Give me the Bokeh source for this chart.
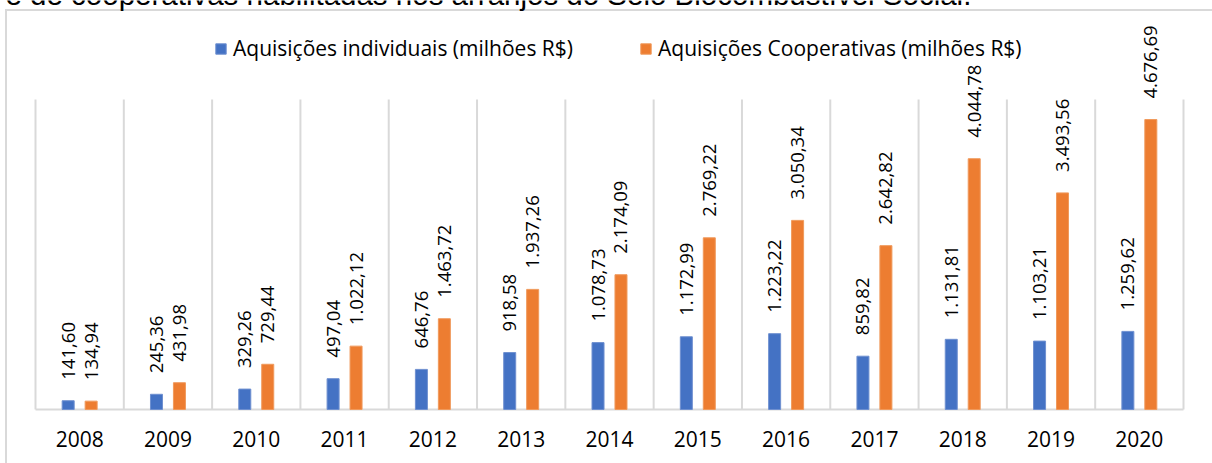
import numpy as np
from bokeh.plotting import figure
from bokeh.models import FixedTicker, Label, ColumnDataSource
from bokeh.core.properties import value
from bokeh.embed import file_html
from bokeh.resources import INLINE

years = ["2008", "2009", "2010", "2011", "2012", "2013", "2014", "2015", "2016", "2017", "2018", "2019", "2020"]
individuais = [141.60, 245.36, 329.26, 497.04, 646.76, 918.58, 1078.73, 1172.99, 1223.22, 859.82, 1131.81, 1103.21, 1259.62]
cooperativas = [134.94, 431.98, 729.44, 1022.12, 1463.72, 1937.26, 2174.09, 2769.22, 3050.34, 2642.82, 4044.78, 3493.56, 4676.69]
serie_ind = "Aquisições individuais (milhões R$)"
serie_coop = "Aquisições Cooperativas (milhões R$)"
titulo = "e de cooperativas habilitadas nos arranjos do Selo Biocombustível Social."
y_max = 5000

BLUE = "#4472C4"
ORANGE = "#ED7D31"
GRID = "#d9d9d9"

# ---- layout (pixels) ----
W, H = 1212, 463
PX_LEFT, PX_RIGHT = 35, 1183      # plot area horizontal extent
PX_TOP, PX_ZERO = 99, 409         # y=y_max and y=0 pixel rows
FRAME_BOTTOM = 411


def br(v):
    s = f"{v:,.2f}"
    return s.replace(",", "X").replace(".", ",").replace("X", ".")


n = len(years)
ppx = (PX_RIGHT - PX_LEFT) / n
ppy = (PX_ZERO - PX_TOP) / y_max
x_start = -PX_LEFT / ppx
x_end = n + (W - PX_RIGHT) / ppx
y_start = -(FRAME_BOTTOM - PX_ZERO) / ppy
y_end = PX_ZERO / ppy

centers = np.arange(n) + 0.5
dx = 0.13
bw = 0.136

src_ind = ColumnDataSource(dict(x=centers - dx, top=individuais, lab=[br(v) for v in individuais]))
src_coop = ColumnDataSource(dict(x=centers + dx, top=cooperativas, lab=[br(v) for v in cooperativas]))

p = figure(width=W, height=H, x_range=(x_start, x_end), y_range=(y_start, y_end),
           output_backend="svg", toolbar_location=None, y_axis_location=None,
           min_border_left=0, min_border_right=0, min_border_top=0,
           min_border_bottom=H - FRAME_BOTTOM,
           styles={"background-color": "white",
                   "background-image": "linear-gradient(#d9d9d9, #d9d9d9), linear-gradient(#d9d9d9, #d9d9d9)",
                   "background-size": "2px 100%, 100% 2px",
                   "background-position": "5px 9px, 5px 9px",
                   "background-repeat": "no-repeat"})
p.outline_line_color = None
p.background_fill_color = None
p.border_fill_color = None
p.xgrid.visible = False
p.ygrid.visible = False

# category separators and baseline
bounds = np.arange(n + 1)
p.segment(x0=bounds, y0=0, x1=bounds, y1=y_max, line_color=GRID, line_width=2)
p.segment(x0=[0], y0=[0], x1=[n], y1=[0], line_color=GRID, line_width=2)

p.vbar(x="x", top="top", width=bw, source=src_ind, fill_color=BLUE, line_color="#6f90d0",
       line_width=1, legend_label=serie_ind)
p.vbar(x="x", top="top", width=bw, source=src_coop, fill_color=ORANGE, line_color="#f09a5c",
       line_width=1, legend_label=serie_coop)

for s in (src_ind, src_coop):
    p.text(x="x", y="top", text="lab", source=s, angle=np.pi / 2, text_align="left",
           text_baseline="middle", y_offset=-21, text_font=value("Open Sans"),
           text_font_size="18.5px", text_color="#000000")

ax = p.xaxis[0]
ax.ticker = FixedTicker(ticks=list(centers))
ax.major_label_overrides = {float(c): y for c, y in zip(centers, years)}
ax.axis_line_color = None
ax.major_tick_line_color = None
ax.minor_tick_line_color = None
ax.major_label_standoff = 13
ax.major_label_text_font = "Open Sans"
ax.major_label_text_font_size = "21px"
ax.major_label_text_color = "#000000"

lg = p.legend[0]
lg.orientation = "horizontal"
lg.location = (214, FRAME_BOTTOM - 62)
lg.padding = 0
lg.margin = 0
lg.spacing = 66
lg.glyph_width = 13
lg.glyph_height = 13
lg.label_standoff = 6
lg.label_text_font = "Open Sans"
lg.label_text_font_size = "21px"
lg.label_text_color = "#000000"
lg.border_line_color = None
lg.background_fill_alpha = 0

p.add_layout(Label(x=5, y=FRAME_BOTTOM + 6, x_units="screen", y_units="screen", text=titulo,
                   text_font="Liberation Sans", text_font_size="29.5px",
                   text_baseline="alphabetic", text_color="#000000"))

open("out.html", "w").write(file_html(p, INLINE))
